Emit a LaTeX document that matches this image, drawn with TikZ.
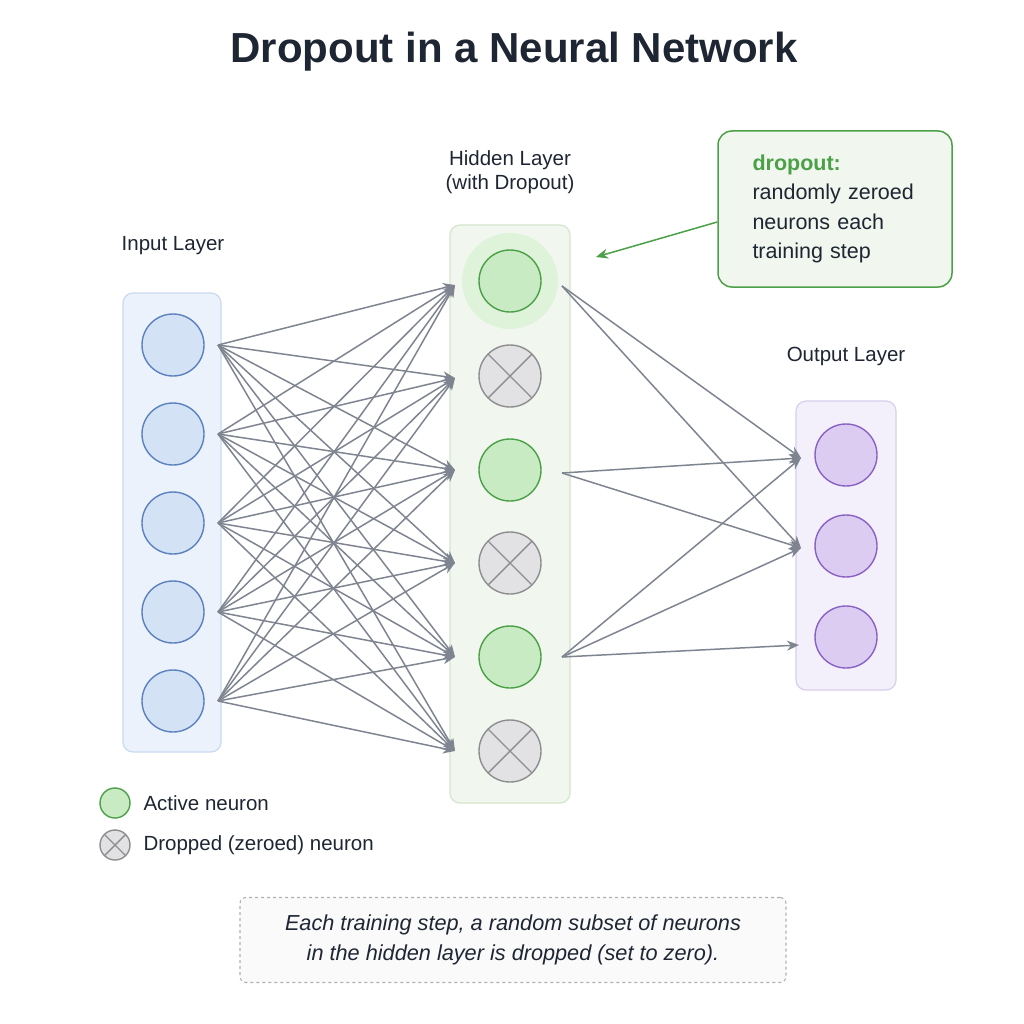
\documentclass[tikz,border=0pt]{standalone}
\usepackage{fontspec}
\setmainfont{Liberation Sans}
\usetikzlibrary{arrows.meta,calc}
\definecolor{edge}{HTML}{7F8590}
\definecolor{inF}{HTML}{D3E2F5}\definecolor{inD}{HTML}{5B82BE}
\definecolor{inBox}{HTML}{EBF2FC}\definecolor{inBoxD}{HTML}{CADAF0}
\definecolor{acF}{HTML}{C9EBC3}\definecolor{acD}{HTML}{4CA048}
\definecolor{hBox}{HTML}{F1F7EE}\definecolor{hBoxD}{HTML}{D4E5CE}
\definecolor{drF}{HTML}{E2E2E4}\definecolor{drD}{HTML}{8E8E90}
\definecolor{ouF}{HTML}{DDCCF2}\definecolor{ouD}{HTML}{8A62C4}
\definecolor{oBox}{HTML}{F3EFFB}\definecolor{oBoxD}{HTML}{D8CFEE}
\definecolor{txt}{HTML}{1F2633}
\tikzset{
 neuron/.style={circle,minimum size=62pt,inner sep=0pt,line width=1.4pt},
 inN/.style={neuron,fill=inF,draw=inD},
 acN/.style={neuron,fill=acF,draw=acD},
 drN/.style={neuron,fill=drF,draw=drD,path picture={\draw[drD,line width=1.4pt] (path picture bounding box.north west)--(path picture bounding box.south east) (path picture bounding box.north east)--(path picture bounding box.south west);}},
 ouN/.style={neuron,fill=ouF,draw=ouD},
 layerbox/.style={rounded corners=10pt,line width=1.2pt},
 conn/.style={draw=edge,line width=1.5pt,-{Stealth[length=12pt,width=10pt]}},
 lbl/.style={text=txt,font=\fontsize{20.5}{24}\selectfont,align=center}
}
\begin{document}
\begin{tikzpicture}[x=1pt,y=-1pt]
\fill[white] (0,0) rectangle (1024,1024);
\useasboundingbox (0,0) rectangle (1024,1024);
\node[text=txt,font=\bfseries\fontsize{42}{46}\selectfont] (title) at (514,52) {Dropout in a Neural Network};
% boxes
\draw[layerbox,fill=inBox,draw=inBoxD] (123,293) rectangle (221,752);
\draw[layerbox,fill=hBox,draw=hBoxD] (450,225) rectangle (570,803);
\draw[layerbox,fill=oBox,draw=oBoxD] (796,401) rectangle (896,690);
\fill[acF!60!white] (510,281) circle (48);
% labels
\node[lbl] (lin) at (173,246) {Input Layer};
\node[lbl] (lhid) at (510,172) {Hidden Layer\\(with Dropout)};
\node[lbl] (lout) at (846,356) {Output Layer};
% neurons
\foreach \i/\y in {1/345,2/434,3/523,4/612,5/701} {\node[inN] (i\i) at (173,\y) {}; \coordinate (ia\i) at (218,\y);}
\node[acN] (h1) at (510,281) {};
\node[drN] (h2) at (510,376) {};
\node[acN] (h3) at (510,470) {};
\node[drN] (h4) at (510,563) {};
\node[acN] (h5) at (510,657) {};
\node[drN] (h6) at (510,751) {};
\foreach \j/\y in {1/285,2/378,3/470,4/563,5/657,6/751} \coordinate (hb\j) at (455,\y);
\foreach \j/\y in {1/286,3/473,5/657} \coordinate (hs\j) at (562,\y);
\foreach \i/\y in {1/455,2/546,3/637} {\node[ouN] (o\i) at (846,\y) {};}
\coordinate (ob1) at (801,458); \coordinate (ob2) at (801,548); \coordinate (ob3) at (799,645);
% edges
\foreach \a in {1,...,5} \foreach \b in {1,...,6} \draw[conn] (ia\a) -- (hb\b);
\foreach \a/\b in {1/1,1/2,3/1,3/2,5/1,5/2,5/3} \draw[conn] (hs\a) -- (ob\b);
% callout
\node[draw=acD,fill=hBox,rounded corners=14pt,line width=1.5pt,minimum width=234pt,minimum height=156pt,text width=165pt,align=left,font=\fontsize{21.5}{29.5}\selectfont,text=txt] (call) at (835,209)
{{\bfseries\color{acD}dropout:}\\randomly zeroed\\neurons each\\training step};
\coordinate (tip) at (596,257);
\draw[draw=acD,line width=1.5pt,-{Stealth[length=12pt,width=10pt]}] (call.west|-0,222) -- (tip);
% legend
\node[acN,minimum size=30pt] (la) at (115,803) {};
\node[lbl,anchor=west] (lat) at (140,803) {Active neuron};
\node[drN,minimum size=30pt] (ld) at (115,845) {};
\node[lbl,anchor=west] (ldt) at (140,845) {Dropped (zeroed) neuron};
% caption
\node[draw=drD!70,dashed,fill=gray!4,rounded corners=6pt,line width=1.1pt,minimum width=546pt,minimum height=85pt,font=\itshape\fontsize{21.7}{30}\selectfont,text=txt,align=center] (cap) at (513,940)
{Each training step, a random subset of neurons\\in the hidden layer is dropped (set to zero).};
\end{tikzpicture}
\end{document}
